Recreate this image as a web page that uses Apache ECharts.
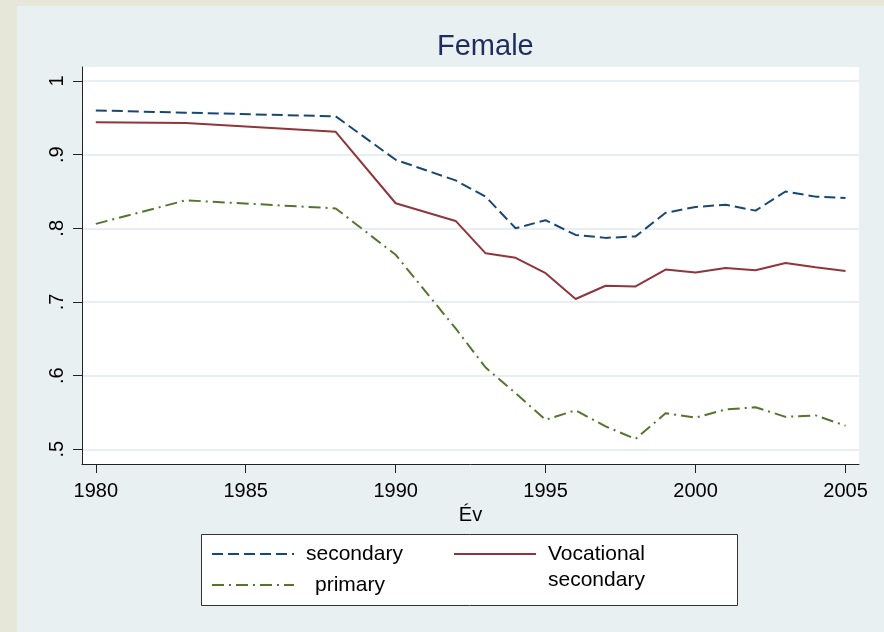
<!DOCTYPE html>
<html>
<head>
<meta charset="utf-8">
<script src="https://cdn.jsdelivr.net/npm/echarts@6/dist/echarts.min.js"></script>
<style>
  html, body { margin: 0; padding: 0; background: #e7e7d9; }
  #chart { position: absolute; left: 17px; top: 6px; width: 867px; height: 626px; }
</style>
</head>
<body>
<div id="chart"></div>
<script>
const years = [1980, 1983, 1988, 1990, 1992, 1993, 1994, 1995, 1996, 1997, 1998, 1999, 2000, 2001, 2002, 2003, 2004, 2005]
const secondary = [0.960, 0.957, 0.952, 0.893, 0.865, 0.843, 0.800, 0.811, 0.791, 0.787, 0.789, 0.821, 0.829, 0.832, 0.824, 0.850, 0.843, 0.841]
const vocational = [0.944, 0.943, 0.931, 0.834, 0.810, 0.766, 0.760, 0.739, 0.704, 0.722, 0.721, 0.744, 0.740, 0.746, 0.743, 0.753, 0.747, 0.742]
const primary = [0.806, 0.838, 0.827, 0.764, 0.664, 0.611, 0.576, 0.540, 0.553, 0.531, 0.514, 0.549, 0.543, 0.554, 0.557, 0.544, 0.546, 0.532]
const xTicks = [1980, 1985, 1990, 1995, 2000, 2005]
const yTicks = [0.5, 0.6, 0.7, 0.8, 0.9, 1]

const font = "'Liberation Sans', Arial, sans-serif"
const pairs = (vals) => years.map((y, i) => [y, vals[i]])

const myChart = echarts.init(document.getElementById('chart'))

const option = {
  backgroundColor: '#e9f0f2',
  animation: false,
  title: {
    text: 'Female',
    left: 420,
    top: 26,
    padding: 0,
    textStyle: { fontFamily: font, fontSize: 29, fontWeight: 'normal', color: '#1f2d5c' }
  },
  grid: {
    left: 65,
    top: 61,
    width: 777,
    height: 397,
    show: true,
    backgroundColor: '#ffffff',
    borderWidth: 0
  },
  xAxis: {
    type: 'value',
    min: 1979.54,
    max: 2005.45,
    name: 'Év',
    nameLocation: 'middle',
    nameGap: 36,
    nameTextStyle: { fontFamily: font, fontSize: 20, color: '#000' },
    axisLine: { show: true, lineStyle: { color: '#222', width: 1 } },
    axisTick: { show: true, length: 9, customValues: xTicks, lineStyle: { color: '#222' } },
    axisLabel: {
      customValues: xTicks,
      margin: 17,
      fontFamily: font,
      fontSize: 20,
      color: '#000',
      formatter: (v) => String(v)
    },
    splitLine: { show: false }
  },
  yAxis: {
    type: 'value',
    min: 0.48,
    max: 1.019,
    axisLine: { show: true, lineStyle: { color: '#222', width: 1 } },
    axisTick: { show: true, length: 9, customValues: yTicks, lineStyle: { color: '#222' } },
    axisLabel: {
      customValues: yTicks,
      rotate: 90,
      margin: 15,
      fontFamily: font,
      fontSize: 20,
      color: '#000',
      formatter: (v) => (v === 1 ? '1' : v.toFixed(1).replace(/^0/, ''))
    },
    splitLine: { show: true, lineStyle: { color: '#e8eff2', width: 2 } }
  },
  legend: [
    {
      orient: 'vertical',
      left: 194,
      top: 536,
      itemWidth: 82,
      itemHeight: 14,
      itemGap: 7,
      padding: 0,
      itemStyle: { opacity: 0 },
      textStyle: { fontFamily: font, fontSize: 21, color: '#000', lineHeight: 24, padding: [0, 0, 0, 7] },
      data: [
        { name: 'secondary' },
        { name: 'primary', textStyle: { padding: [0, 0, 0, 16] } }
      ]
    },
    {
      left: 436,
      top: 509,
      itemWidth: 82,
      itemHeight: 14,
      padding: 0,
      itemStyle: { opacity: 0 },
      // blank first line keeps "Vocational" level with the line sample
      formatter: (name) => '\n' + name,
      textStyle: { fontFamily: font, fontSize: 21, color: '#000', lineHeight: 26, padding: [0, 0, 0, 7] },
      data: ['Vocational\nsecondary']
    }
  ],
  graphic: [
    {
      type: 'rect',
      z: 0,
      shape: { x: 184.5, y: 528.5, width: 536, height: 71 },
      style: { fill: '#ffffff', stroke: '#333333', lineWidth: 1 }
    }
  ],
  series: [
    {
      name: 'secondary',
      type: 'line',
      symbol: 'none',
      data: pairs(secondary),
      lineStyle: { color: '#1a476f', width: 2, type: [11, 5] },
      itemStyle: { color: '#1a476f' }
    },
    {
      name: 'Vocational\nsecondary',
      type: 'line',
      symbol: 'none',
      data: pairs(vocational),
      lineStyle: { color: '#90353b', width: 2 },
      itemStyle: { color: '#90353b' }
    },
    {
      name: 'primary',
      type: 'line',
      symbol: 'none',
      data: pairs(primary),
      lineStyle: { color: '#55752f', width: 2, type: [12, 5, 2, 5] },
      itemStyle: { color: '#55752f' }
    }
  ]
}

myChart.setOption(option)
</script>
</body>
</html>
